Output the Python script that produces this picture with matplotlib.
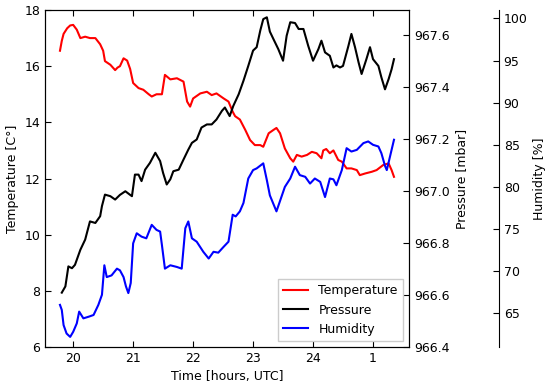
"""
Evening weather-station log: temperature, pressure and humidity on three y axes.
"""
import matplotlib
matplotlib.use("Agg")
import matplotlib.pyplot as plt

# temperature [C]
t_temp = [19.78, 19.81, 19.84, 19.90, 19.95, 20.00, 20.06, 20.12, 20.20, 20.28,
          20.37, 20.45, 20.50, 20.53, 20.62, 20.70, 20.74, 20.78, 20.84, 20.90,
          20.95, 21.00, 21.09, 21.17, 21.26, 21.31, 21.39, 21.48, 21.53, 21.62,
          21.73, 21.84, 21.90, 21.95, 22.00, 22.12, 22.23, 22.31, 22.39, 22.51,
          22.59, 22.66, 22.70, 22.78, 22.87, 22.95, 23.03, 23.12, 23.17, 23.26,
          23.34, 23.39, 23.45, 23.53, 23.62, 23.67, 23.73, 23.81, 23.90, 23.98,
          24.06, 24.14, 24.17, 24.22, 24.28, 24.34, 24.42, 24.48, 24.56, 24.64,
          24.73, 24.78, 24.87, 24.98, 25.06, 25.17, 25.26, 25.31, 25.35]
temperature = [16.55, 16.9, 17.15, 17.35, 17.45, 17.47, 17.3, 17.0, 17.05, 17.0,
               17.0, 16.78, 16.55, 16.18, 16.05, 15.86, 15.95, 16.0, 16.28, 16.2,
               15.9, 15.4, 15.22, 15.16, 15.0, 14.92, 15.0, 15.0, 15.69, 15.53,
               15.57, 15.45, 14.74, 14.56, 14.85, 15.03, 15.09, 14.97, 15.03, 14.85,
               14.74, 14.38, 14.22, 14.1, 13.73, 13.37, 13.19, 13.19, 13.13, 13.61,
               13.73, 13.8, 13.61, 13.07, 12.72, 12.6, 12.84, 12.78, 12.84, 12.95,
               12.9, 12.72, 13.0, 13.05, 12.9, 13.0, 12.66, 12.6, 12.36, 12.36,
               12.3, 12.12, 12.18, 12.24, 12.3, 12.48, 12.54, 12.3, 12.06]

# pressure [mbar]
t_pres = [19.81, 19.87, 19.92, 19.98, 20.03, 20.12, 20.20, 20.28, 20.37, 20.45,
          20.48, 20.53, 20.62, 20.70, 20.78, 20.87, 20.95, 20.98, 21.03, 21.09,
          21.14, 21.20, 21.28, 21.37, 21.45, 21.50, 21.56, 21.62, 21.67, 21.76,
          21.84, 21.92, 21.98, 22.06, 22.14, 22.23, 22.31, 22.39, 22.48, 22.53,
          22.61, 22.67, 22.76, 22.84, 22.92, 23.00, 23.06, 23.12, 23.17, 23.23,
          23.28, 23.34, 23.42, 23.50, 23.56, 23.62, 23.70, 23.76, 23.84, 23.92,
          24.00, 24.09, 24.14, 24.20, 24.28, 24.34, 24.39, 24.45, 24.50, 24.59,
          24.64, 24.70, 24.76, 24.81, 24.89, 24.95, 25.00, 25.09, 25.14, 25.20,
          25.26, 25.31, 25.35]
pressure = [966.609, 966.633, 966.710, 966.703, 966.716, 966.774, 966.813, 966.883, 966.877, 966.903,
            966.942, 966.986, 966.980, 966.967, 966.985, 966.999, 966.985, 966.980, 967.063, 967.063,
            967.038, 967.082, 967.108, 967.147, 967.115, 967.069, 967.025, 967.045, 967.076, 967.082,
            967.121, 967.159, 967.185, 967.198, 967.244, 967.256, 967.256, 967.275, 967.308, 967.321,
            967.288, 967.327, 967.372, 967.424, 967.481, 967.540, 967.553, 967.617, 967.661, 967.668,
            967.613, 967.584, 967.546, 967.501, 967.597, 967.649, 967.646, 967.623, 967.623, 967.558,
            967.501, 967.546, 967.578, 967.533, 967.520, 967.475, 967.483, 967.475, 967.481, 967.558,
            967.604, 967.553, 967.494, 967.450, 967.507, 967.553, 967.507, 967.481, 967.437, 967.391,
            967.430, 967.468, 967.507]

# relative humidity [%]
t_hum = [19.78, 19.81, 19.84, 19.89, 19.95, 20.00, 20.06, 20.10, 20.17, 20.26,
         20.34, 20.42, 20.48, 20.52, 20.56, 20.64, 20.73, 20.78, 20.84, 20.88,
         20.92, 20.96, 21.00, 21.06, 21.14, 21.22, 21.31, 21.39, 21.45, 21.48,
         21.53, 21.62, 21.73, 21.81, 21.87, 21.92, 21.98, 22.06, 22.17, 22.26,
         22.34, 22.42, 22.51, 22.59, 22.66, 22.71, 22.78, 22.84, 22.92, 23.00,
         23.06, 23.17, 23.23, 23.28, 23.39, 23.53, 23.62, 23.70, 23.78, 23.87,
         23.95, 24.03, 24.12, 24.20, 24.28, 24.34, 24.39, 24.48, 24.56, 24.64,
         24.73, 24.84, 24.92, 25.00, 25.09, 25.14, 25.20, 25.23, 25.28, 25.35]
humidity = [66.0, 65.4, 63.6, 62.6, 62.2, 62.8, 63.8, 65.2, 64.4, 64.6,
            64.8, 66.0, 67.2, 70.7, 69.3, 69.5, 70.3, 70.1, 69.3, 68.2,
            67.4, 68.6, 73.3, 74.5, 74.1, 73.9, 75.5, 74.9, 74.7, 73.1,
            70.3, 70.7, 70.5, 70.3, 75.1, 75.9, 73.9, 73.5, 72.3, 71.5,
            72.3, 72.2, 72.9, 73.5, 76.7, 76.5, 77.1, 78.1, 81.0, 82.0,
            82.2, 82.8, 80.8, 79.0, 77.1, 80.0, 81.0, 82.4, 81.4, 81.2,
            80.4, 81.0, 80.6, 78.8, 81.0, 80.9, 80.2, 82.0, 84.6, 84.2,
            84.4, 85.2, 85.4, 85.0, 84.8, 84.0, 82.5, 82.0, 83.5, 85.6]

hour_ticks = [20, 21, 22, 23, 24, 25]
hour_labels = ["20", "21", "22", "23", "24", "1"]

plt.rcParams["font.family"] = ["DejaVu Sans"]
plt.rcParams["font.size"] = 9

fig = plt.figure(figsize=(5.5, 3.85), dpi=100)
ax = fig.add_axes([0.0818, 0.0987, 0.6618, 0.8753])
ax2 = ax.twinx()
ax3 = ax.twinx()
ax3.spines["right"].set_position(("axes", 1.247))
for side in ("left", "top", "bottom"):
    ax3.spines[side].set_visible(False)

l1, = ax.plot(t_temp, temperature, color="red", lw=1.5, label="Temperature")
l2, = ax2.plot(t_pres, pressure, color="black", lw=1.5, label="Pressure")
l3, = ax3.plot(t_hum, humidity, color="blue", lw=1.5, label="Humidity")

ax.set_xlim(19.53, 25.6)
ax.set_ylim(6, 18)
ax2.set_ylim(966.4, 967.696)
ax3.set_ylim(61.0, 101.0)

ax.set_xticks(hour_ticks)
ax.set_xticklabels(hour_labels)
ax.set_yticks([6, 8, 10, 12, 14, 16, 18])
ax2.set_yticks([966.4, 966.6, 966.8, 967.0, 967.2, 967.4, 967.6])
ax2.set_yticklabels(["966.4", "966.6", "966.8", "967.0", "967.2", "967.4", "967.6"])
ax3.set_yticks([65, 70, 75, 80, 85, 90, 95, 100])

ax.tick_params(axis="x", direction="in", top=True, length=4)
ax.tick_params(axis="y", direction="in", length=4)
ax2.tick_params(axis="y", direction="in", length=4)
ax3.tick_params(axis="y", direction="in", length=4)

ax.set_xlabel("Time [hours, UTC]")
ax.set_ylabel("Temperature [C°]")
ax2.set_ylabel("Pressure [mbar]")
ax3.set_ylabel("Humidity [%]")

ax3.legend([l1, l2, l3], ["Temperature", "Pressure", "Humidity"],
           loc="lower right", fontsize=9, fancybox=False, framealpha=1)

fig.savefig("out.png", dpi=100)
